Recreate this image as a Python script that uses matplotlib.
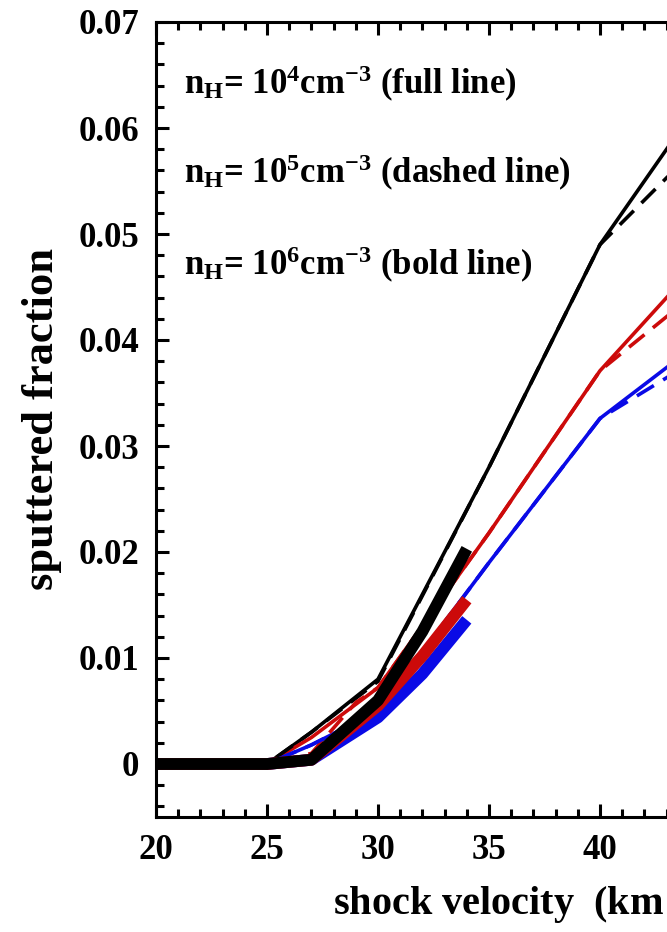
import matplotlib
matplotlib.use("Agg")
import matplotlib.pyplot as plt
from matplotlib.ticker import MultipleLocator

plt.rcParams["font.family"] = ["Liberation Serif", "DejaVu Serif"]
plt.rcParams["font.weight"] = "bold"
plt.rcParams["axes.labelweight"] = "bold"
plt.rcParams["mathtext.fontset"] = "custom"
plt.rcParams["mathtext.rm"] = "Liberation Serif:bold"
plt.rcParams["mathtext.it"] = "Liberation Serif:bold"
plt.rcParams["mathtext.bf"] = "Liberation Serif:bold"

# shock velocity (km/s)
v_1e4 = [20, 25, 27, 30, 35, 40, 45]
v_1e5_red = [20, 25, 27, 29, 30, 35, 40, 45]
v_1e6 = [20, 25, 27, 30, 32, 34]

# n_H = 1e4 (full line)
black_1e4 = [0, 0, 0.003, 0.008, 0.028, 0.049, 0.064]
red_1e4 = [0, 0, 0.0025, 0.0072, 0.0218, 0.0371, 0.0486]
blue_1e4 = [0, 0, 0.0018, 0.005, 0.019, 0.0326, 0.0406]

# n_H = 1e5 (dashed line)
black_1e5 = [0, 0, 0.003, 0.0078, 0.028, 0.049, 0.0595]
red_1e5 = [0, 0, 0.001, 0.0058, 0.0072, 0.0218, 0.0371, 0.0456]
blue_1e5 = [0, 0, 0.0018, 0.005, 0.019, 0.0326, 0.039]

# n_H = 1e6 (bold line)
black_1e6 = [0, 0, 0.0004, 0.006, 0.0125, 0.0203]
red_1e6 = [0, 0, 0.0004, 0.0055, 0.0102, 0.0155]
blue_1e6 = [0, 0, 0.0004, 0.0044, 0.0085, 0.0136]

BLACK = "#000000"
RED = "#cc0a0a"
BLUE = "#0a0ae6"

fig = plt.figure(figsize=(6.67, 9.32), dpi=100)
# the original is cropped at ~43 km/s: axes end at the figure edge, no right spine
ax = fig.add_axes([156 / 667, 115 / 932, 511 / 667, 795 / 932])

thin = 2.6
bold = 8.5
dash = (5.5, 3)

ax.plot(v_1e4, black_1e4, color=BLACK, lw=thin)
ax.plot(v_1e4, red_1e4, color=RED, lw=thin)
ax.plot(v_1e4, blue_1e4, color=BLUE, lw=thin)

ax.plot(v_1e4, black_1e5, color=BLACK, lw=thin, dashes=dash)
ax.plot(v_1e5_red, red_1e5, color=RED, lw=thin, dashes=dash)
ax.plot(v_1e4, blue_1e5, color=BLUE, lw=thin, dashes=dash)

ax.plot(v_1e6, blue_1e6, color=BLUE, lw=bold, solid_capstyle="butt")
ax.plot(v_1e6, red_1e6, color=RED, lw=bold, solid_capstyle="butt")
ax.plot(v_1e6, black_1e6, color=BLACK, lw=bold, solid_capstyle="butt")

ax.set_xlim(20, 20 + 511 / 22.2)
ax.set_ylim(-0.005, 0.07)
ax.xaxis.set_major_locator(MultipleLocator(5))
ax.xaxis.set_minor_locator(MultipleLocator(1))
ax.yaxis.set_minor_locator(MultipleLocator(0.002))
ax.set_yticks([0, 0.01, 0.02, 0.03, 0.04, 0.05, 0.06, 0.07])
ax.set_yticklabels(["0", "0.01", "0.02", "0.03", "0.04", "0.05", "0.06", "0.07"])

ax.tick_params(which="both", direction="in", top=True, right=False, width=2.2,
               labelsize=25)
ax.tick_params(which="major", length=9.5, pad=12)
ax.tick_params(which="minor", length=5.5)
for s in ax.spines.values():
    s.set_linewidth(2.2)
ax.spines["right"].set_visible(False)

ax.set_ylabel("sputtered fraction", fontsize=32, labelpad=12)
xl = ax.set_xlabel("shock velocity  (km s$^{-1}$)", fontsize=29)
xl.set_ha("left")
xl.set_va("baseline")
ax.xaxis.set_label_coords((333 - 156) / 511, (817 - 915) / 795)

labels = [r"n$_{\rm H}$= 10$^{4}$cm$^{-3}$ (full line)",
          r"n$_{\rm H}$= 10$^{5}$cm$^{-3}$ (dashed line)",
          r"n$_{\rm H}$= 10$^{6}$cm$^{-3}$ (bold line)"]
label_y = [0.0632, 0.0548, 0.0461]
for t, y in zip(labels, label_y):
    ax.text(21.27, y, t, fontsize=25, va="baseline", ha="left")

fig.savefig("out.png", dpi=100)
